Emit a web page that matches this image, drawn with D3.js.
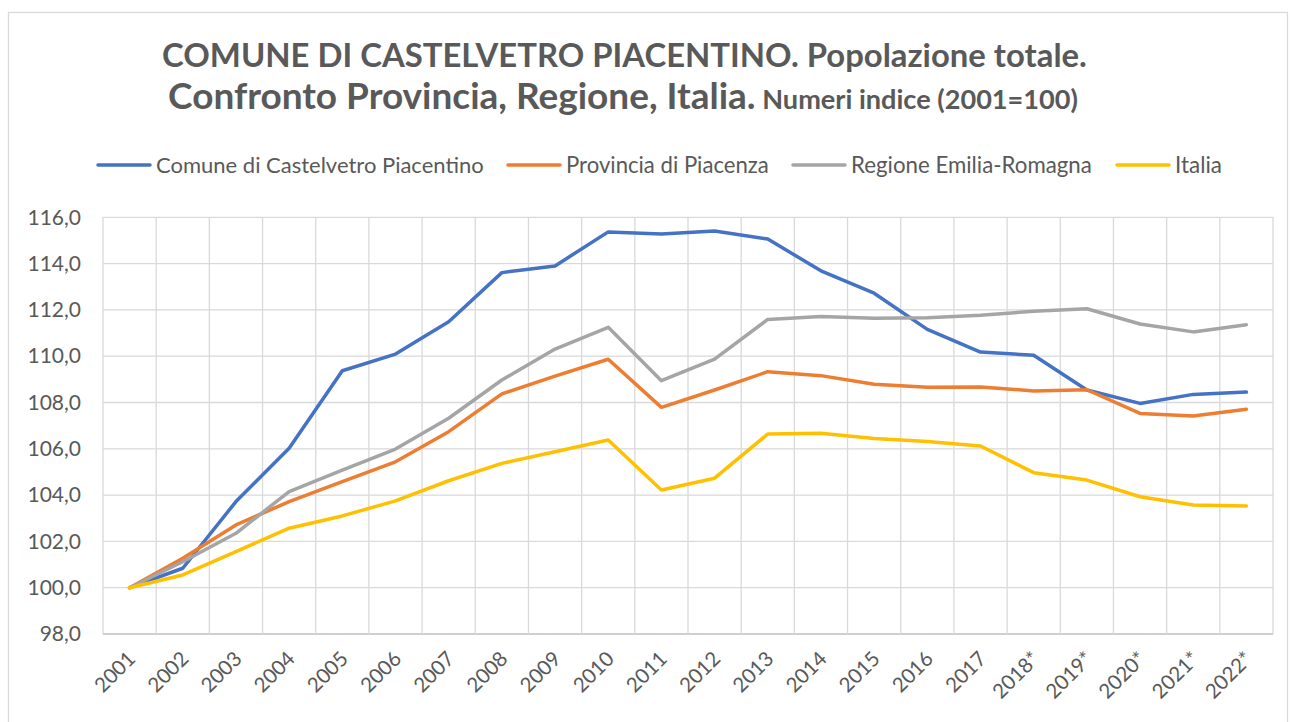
<!DOCTYPE html>
<html>
<head>
<meta charset="utf-8">
<script src="https://cdn.jsdelivr.net/npm/d3@7"></script>
<style>
  body { margin: 0; background: #fff; }
  svg { display: block; font-family: Lato, "Open Sans", sans-serif; }
</style>
</head>
<body>
<div id="chart"></div>
<script>
// categories and series (index numbers, 2001 = 100)
var years = ["2001","2002","2003","2004","2005","2006","2007","2008","2009","2010","2011",
             "2012","2013","2014","2015","2016","2017","2018*","2019*","2020*","2021*","2022*"];

var comune = [100.0,100.84,103.72,106.02,109.37,110.09,111.49,113.61,113.9,115.37,115.28,
              115.41,115.06,113.69,112.72,111.16,110.18,110.04,108.54,107.96,108.35,108.45];
var provincia = [100.0,101.27,102.71,103.72,104.58,105.44,106.74,108.37,109.14,109.87,107.79,
                 108.54,109.33,109.16,108.79,108.66,108.67,108.5,108.55,107.53,107.42,107.71];
var regione = [100.0,101.12,102.35,104.15,105.08,105.99,107.32,108.97,110.31,111.25,108.94,
               109.87,111.59,111.71,111.64,111.66,111.77,111.94,112.05,111.39,111.05,111.36];
var italia = [100.0,100.55,101.56,102.57,103.1,103.75,104.62,105.37,105.87,106.38,104.22,
              104.73,106.64,106.67,106.44,106.32,106.12,104.97,104.65,103.93,103.57,103.53];

var seriesNames = ["Comune di Castelvetro Piacentino","Provincia di Piacenza","Regione Emilia-Romagna","Italia"];
var yTicks = [98,100,102,104,106,108,110,112,114,116];

var series = [
  {name: seriesNames[0], values: comune, color: "#4472C4"},
  {name: seriesNames[1], values: provincia, color: "#ED7D31"},
  {name: seriesNames[2], values: regione, color: "#A5A5A5"},
  {name: seriesNames[3], values: italia, color: "#FFC000"}
];

var W = 1290, H = 722;
var textColor = "#595959";
var plot = {left: 103, right: 1273, top: 217.3, bottom: 634};

var svg = d3.select("#chart").append("svg")
    .attr("width", W)
    .attr("height", H);

// outer frame
svg.append("rect")
    .attr("x", 8.5).attr("y", 12.5)
    .attr("width", 1279).attr("height", 730)
    .attr("fill", "#fff")
    .attr("stroke", "#d9d9d9")
    .attr("stroke-width", 1.3);

// fit a text element to a target width by adjusting font size
function fit(sel, target) {
  var fs = parseFloat(sel.attr("font-size"));
  var w = sel.node().getComputedTextLength();
  sel.attr("font-size", fs * target / w);
}

// title
var t1 = svg.append("text")
    .attr("x", 624.5).attr("y", 67)
    .attr("text-anchor", "middle")
    .attr("font-size", 30)
    .attr("font-weight", "bold")
    .attr("fill", textColor)
    .text("COMUNE DI CASTELVETRO PIACENTINO. Popolazione totale.");
fit(t1, 925);

var t2 = svg.append("text")
    .attr("x", 623).attr("y", 109)
    .attr("text-anchor", "middle")
    .attr("font-weight", "bold")
    .attr("fill", textColor);
t2.append("tspan").attr("font-size", 30).text("Confronto Provincia, Regione, Italia.");
t2.append("tspan").attr("font-size", 22).text(" Numeri indice (2001=100)");
var w2 = t2.node().getComputedTextLength();
var k2 = 910 / w2;
t2.selectAll("tspan").each(function() {
  var s = d3.select(this);
  s.attr("font-size", parseFloat(s.attr("font-size")) * k2);
});

// scales
var x = d3.scaleBand().domain(years).range([plot.left, plot.right]);
var y = d3.scaleLinear().domain([98, 116]).range([plot.bottom, plot.top]);

// grid
var g = svg.append("g");
g.selectAll(".hgrid").data(yTicks).enter().append("line")
    .attr("x1", plot.left).attr("x2", plot.right)
    .attr("y1", function(d) { return y(d); })
    .attr("y2", function(d) { return y(d); })
    .attr("stroke", function(d) { return d == 98 ? "#bfbfbf" : "#d9d9d9"; })
    .attr("stroke-width", 1.3);

var vb = years.map(function(d) { return x(d); }).concat([plot.right]);
g.selectAll(".vgrid").data(vb).enter().append("line")
    .attr("x1", function(d) { return d; })
    .attr("x2", function(d) { return d; })
    .attr("y1", plot.top).attr("y2", plot.bottom)
    .attr("stroke", "#d9d9d9")
    .attr("stroke-width", 1.3);

// y axis labels
var yAxis = svg.append("g")
    .attr("transform", "translate(" + plot.left + ",0)")
    .call(d3.axisLeft(y).tickValues(yTicks).tickSize(0).tickPadding(22)
      .tickFormat(function(d) { return d3.format(".1f")(d).replace(".", ","); }));
yAxis.select(".domain").remove();
yAxis.selectAll("text")
    .attr("font-size", 21)
    .attr("font-family", "Lato, 'Open Sans', sans-serif")
    .attr("fill", textColor);

// x axis labels (rotated)
svg.append("g").selectAll(".xl").data(years).enter().append("text")
    .attr("transform", function(d) {
      return "translate(" + (x(d) + x.bandwidth() / 2 + 2) + "," + 655 + ") rotate(-45)";
    })
    .attr("text-anchor", "end")
    .attr("dy", "0.35em")
    .attr("font-size", 20.5)
    .attr("fill", textColor)
    .text(function(d) { return d; });

// lines
var line = d3.line()
    .x(function(d, i) { return x(years[i]) + x.bandwidth() / 2; })
    .y(function(d) { return y(d); });

svg.append("g").selectAll(".series").data(series).enter().append("path")
    .attr("d", function(d) { return line(d.values); })
    .attr("fill", "none")
    .attr("stroke", function(d) { return d.color; })
    .attr("stroke-width", 3.5)
    .attr("stroke-linejoin", "round")
    .attr("stroke-linecap", "round");

// legend
var legX = [98, 508, 793, 1117];
var legW = [328, 203, 241, 47];
var leg = svg.append("g").selectAll(".leg").data(series).enter().append("g")
    .attr("transform", function(d, i) { return "translate(" + legX[i] + ",165)"; });
leg.append("line")
    .attr("x1", 0).attr("x2", 52)
    .attr("stroke", function(d) { return d.color; })
    .attr("stroke-width", 3.5)
    .attr("stroke-linecap", "round");
leg.append("text")
    .attr("x", 58).attr("dy", "0.35em")
    .attr("font-size", 19)
    .attr("fill", textColor)
    .text(function(d) { return d.name; })
    .each(function(d, i) { fit(d3.select(this), legW[i]); });
</script>
</body>
</html>
